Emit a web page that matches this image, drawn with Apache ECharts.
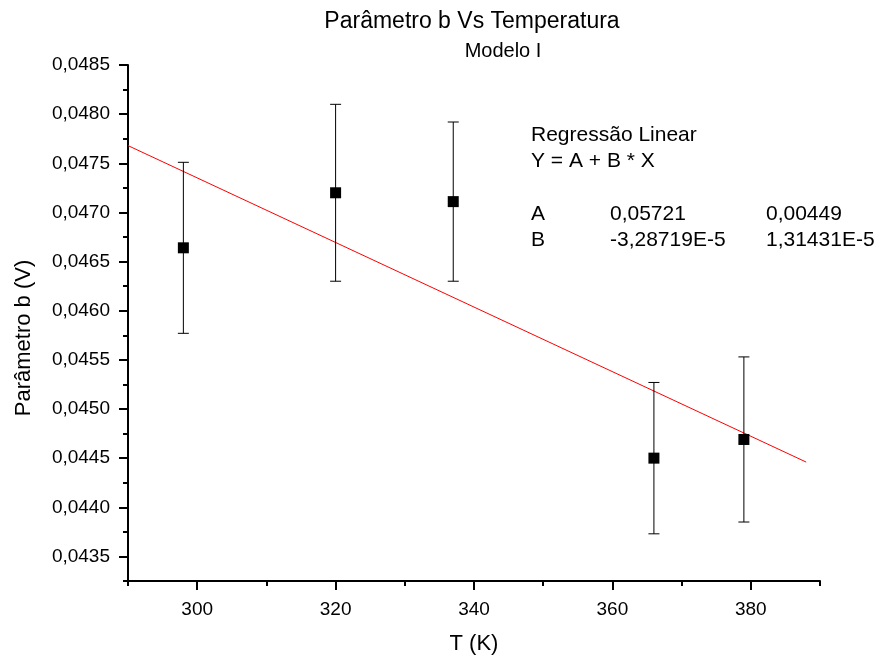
<!DOCTYPE html>
<html>
<head>
<meta charset="utf-8">
<script src="https://cdn.jsdelivr.net/npm/echarts@6/dist/echarts.min.js"></script>
<style>
html,body{margin:0;padding:0;background:#fff;}
#chart{width:883px;height:663px;}
</style>
</head>
<body>
<div id="chart"></div>
<script>
// ---- data ----
var temps = [298, 320, 337, 366, 379];
var bValues = [0.04664, 0.04720, 0.04711, 0.04450, 0.04469];
var bErrors = [0.00087, 0.00090, 0.00081, 0.00077, 0.00084];
var fitX = [290, 388];
var fitY = [0.04768, 0.04446];
var xMajorTicks = [300, 320, 340, 360, 380];
var xMinorTicks = [290, 310, 330, 350, 370, 390];
var yMajorTicks = [0.0435, 0.0440, 0.0445, 0.0450, 0.0455, 0.0460, 0.0465, 0.0470, 0.0475, 0.0480, 0.0485];
var yMinorTicks = [0.04325, 0.04375, 0.04425, 0.04475, 0.04525, 0.04575, 0.04625, 0.04675, 0.04725, 0.04775, 0.04825];
var titleText = 'Parâmetro b Vs Temperatura';
var subtitleText = 'Modelo I';
var xName = 'T (K)';
var yName = 'Parâmetro b (V)';
var regLines = ['Regressão Linear', 'Y = A + B * X'];
var regTable = [
  ['A', '0,05721', '0,00449'],
  ['B', '-3,28719E-5', '1,31431E-5']
];

var FONT = '"Liberation Sans", Arial, sans-serif';
var chart = echarts.init(document.getElementById('chart'), null, {renderer: 'canvas'});

var pointData = temps.map(function (t, i) { return [t, bValues[i]]; });
var errData = temps.map(function (t, i) { return [t, bValues[i] - bErrors[i], bValues[i] + bErrors[i]]; });
var fitData = fitX.map(function (x, i) { return [x, fitY[i]]; });

var graphics = [];
regLines.forEach(function (s, i) {
  graphics.push({type: 'text', x: 531, y: [135, 161][i],
    style: {text: s, font: '21px ' + FONT, fill: '#000', verticalAlign: 'middle'}});
});
var colX = [531, 610, 766];
regTable.forEach(function (row, r) {
  row.forEach(function (cell, c) {
    graphics.push({type: 'text', x: colX[c], y: [214, 240][r],
      style: {text: cell, font: '21px ' + FONT, fill: '#000', verticalAlign: 'middle'}});
  });
});

function fmt(v) { return v.toFixed(4).replace('.', ','); }

var option = {
  backgroundColor: '#fff',
  animation: false,
  title: [
    {text: titleText, left: 472, top: 10, textAlign: 'center', padding: 0,
      textStyle: {fontFamily: FONT, fontSize: 23, fontWeight: 'normal', color: '#000'}},
    {text: subtitleText, left: 503, top: 41, textAlign: 'center', padding: 0,
      textStyle: {fontFamily: FONT, fontSize: 20, fontWeight: 'normal', color: '#000'}}
  ],
  grid: {left: 128, right: 63, top: 65, bottom: 82, containLabel: false, outerBoundsMode: 'none'},
  xAxis: [
    {type: 'value', min: 290, max: 390, position: 'bottom',
      name: xName, nameLocation: 'middle', nameGap: 52,
      nameTextStyle: {fontFamily: FONT, fontSize: 22, color: '#000'},
      axisLine: {show: true, onZero: false, lineStyle: {color: '#000', width: 2}},
      axisTick: {show: true, customValues: xMajorTicks, length: 9, lineStyle: {color: '#000', width: 2}},
      axisLabel: {show: true, customValues: xMajorTicks, margin: 19, fontFamily: FONT, fontSize: 19, color: '#000'},
      splitLine: {show: false}},
    {type: 'value', min: 290, max: 390, position: 'bottom',
      axisLine: {show: false, onZero: false},
      axisTick: {show: true, customValues: xMinorTicks, length: 5, lineStyle: {color: '#000', width: 2}},
      axisLabel: {show: false}, splitLine: {show: false}}
  ],
  yAxis: [
    {type: 'value', min: 0.04325, max: 0.0485, position: 'left',
      name: yName, nameLocation: 'middle', nameGap: 93,
      nameTextStyle: {fontFamily: FONT, fontSize: 22, color: '#000', padding: [0, 30, 0, 0]},
      axisLine: {show: true, onZero: false, lineStyle: {color: '#000', width: 2}},
      axisTick: {show: true, customValues: yMajorTicks, length: 9, lineStyle: {color: '#000', width: 2}},
      axisLabel: {show: true, customValues: yMajorTicks, margin: 18, fontFamily: FONT, fontSize: 19, color: '#000',
        formatter: fmt},
      splitLine: {show: false}},
    {type: 'value', min: 0.04325, max: 0.0485, position: 'left',
      axisLine: {show: false, onZero: false},
      axisTick: {show: true, customValues: yMinorTicks, length: 5, lineStyle: {color: '#000', width: 2}},
      axisLabel: {show: false}, splitLine: {show: false}}
  ],
  graphic: graphics,
  series: [
    {type: 'line', data: fitData, xAxisIndex: 0, yAxisIndex: 0, showSymbol: false, symbol: 'none',
      lineStyle: {color: '#ff0000', width: 1}, silent: true, z: 2},
    {type: 'custom', data: errData, xAxisIndex: 0, yAxisIndex: 0, z: 3,
      renderItem: function (params, api) {
        var x = api.value(0);
        var lo = api.coord([x, api.value(1)]);
        var hi = api.coord([x, api.value(2)]);
        var hw = 5.5;
        var style = {stroke: '#000', lineWidth: 1};
        return {type: 'group', children: [
          {type: 'line', shape: {x1: lo[0], y1: lo[1], x2: hi[0], y2: hi[1]}, style: style},
          {type: 'line', shape: {x1: lo[0] - hw, y1: lo[1], x2: lo[0] + hw, y2: lo[1]}, style: style},
          {type: 'line', shape: {x1: hi[0] - hw, y1: hi[1], x2: hi[0] + hw, y2: hi[1]}, style: style}
        ]};
      }},
    {type: 'scatter', data: pointData, xAxisIndex: 0, yAxisIndex: 0, symbol: 'rect', symbolSize: 11,
      itemStyle: {color: '#000', opacity: 1}, z: 4}
  ]
};
chart.setOption(option);
</script>
</body>
</html>
